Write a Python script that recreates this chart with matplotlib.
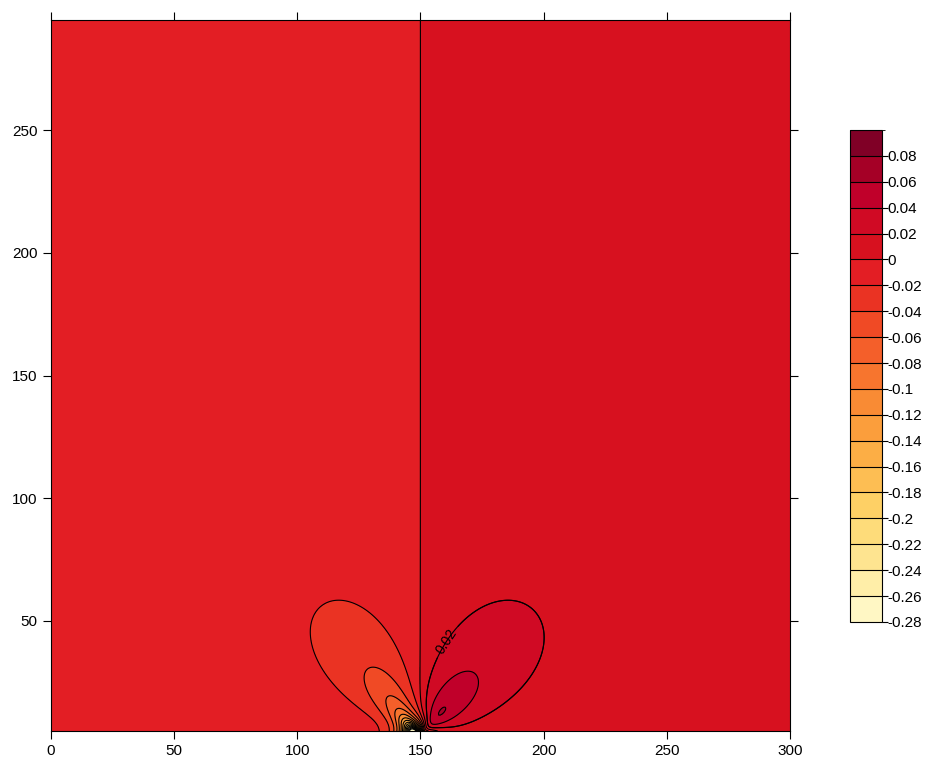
import numpy as np
import matplotlib
matplotlib.use("Agg")
import matplotlib.pyplot as plt
from matplotlib.colors import ListedColormap, BoundaryNorm

plt.rcParams['font.family'] = ['Liberation Sans', 'DejaVu Sans']

# contour levels and the fill colours (bottom -> top)
levels = [-0.28, -0.26, -0.24, -0.22, -0.20, -0.18, -0.16, -0.14, -0.12, -0.10,
          -0.08, -0.06, -0.04, -0.02, 0.0, 0.02, 0.04, 0.06, 0.08, 0.10]
fill_colors = ['#fff7c4', '#ffeea8', '#fee490', '#fedc7a', '#fed065', '#fdbe53',
               '#fcae45', '#fb9e3c', '#f98b34', '#f7752e', '#f45f2a', '#f04a25',
               '#ea3323', '#e31e24', '#d7111f', '#d00a24', '#c0002a', '#a50026',
               '#800026']
cbar_ticks = levels[:-1]

# field description: background step across x=150, two lobes and a sink at the source
src_x, src_y = 149.0, 2.0
background = 0.01
# amplitude, angle from vertical [rad], angular width, radial decay
lobe_left = (-0.10, -0.62, 0.40, 29.0)
lobe_right = (0.09, 0.72, 0.46, 32.0)
sink_x, sink_y = 147.5, 2.0
sink_amp, sink_decay = 0.6, 3.4

x = np.linspace(0, 300, 601)
y = np.linspace(5, 295, 581)
X, Y = np.meshgrid(x, y)
dx, dy = X - src_x, Y - src_y
r = np.hypot(dx, dy)
th = np.arctan2(dx, dy)

Z = background * np.tanh((X - 150.0) / 1.5)
for amp, ang, w, L in (lobe_left, lobe_right):
    Z += amp * np.exp(-r / L) * np.exp(-((th - ang) / w) ** 2)
Z -= sink_amp * np.exp(-np.hypot(X - sink_x, Y - sink_y) / sink_decay)

cmap = ListedColormap(fill_colors)
norm = BoundaryNorm(levels, cmap.N)

fig = plt.figure(figsize=(9.27, 7.61), dpi=100)
ax = fig.add_axes([0.055, 0.0394, 0.797, 0.9343])

cf = ax.contourf(X, Y, np.clip(Z, -0.2799, 0.0999), levels=levels, cmap=cmap, norm=norm)
cs = ax.contour(X, Y, Z, levels=levels, colors='black', linewidths=0.8,
                linestyles='solid')
cs2 = ax.contour(X, Y, Z, levels=[0.02], colors='black', linewidths=0.8,
                 linestyles='solid')
cs2.clabel(fmt='%g', fontsize=10, manual=[(160, 42)], inline=True)

ax.set_xlim(0, 300)
ax.set_ylim(5, 295)
ax.set_xticks([0, 50, 100, 150, 200, 250, 300])
ax.set_yticks([50, 100, 150, 200, 250])
ax.tick_params(direction='out', length=6, top=True, right=True, labelsize=11)

cax = fig.add_axes([0.917, 0.1827, 0.034, 0.6465])
cb = fig.colorbar(cf, cax=cax, ticks=cbar_ticks)
cb.ax.set_yticklabels(['%g' % t for t in cbar_ticks])
cb.ax.tick_params(length=4, labelsize=11, pad=0.5)
cb.outline.set_linewidth(0.8)
for lv in levels[1:-1]:
    cb.ax.axhline(lv, color='black', linewidth=0.8)

fig.savefig('out.png', dpi=100)
